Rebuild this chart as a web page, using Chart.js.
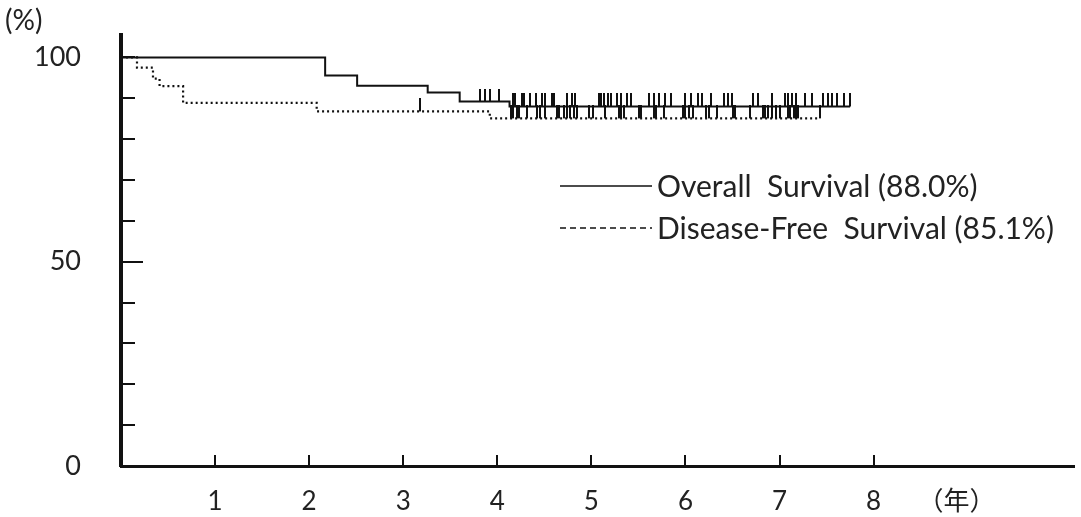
<!DOCTYPE html>
<html>
<head>
<meta charset="utf-8">
<script src="https://cdn.jsdelivr.net/npm/chart.js@4.4.1/dist/chart.umd.min.js"></script>
<style>
html, body { margin: 0; padding: 0; background: #fff; }
#wrap { width: 1081px; height: 517px; }
</style>
</head>
<body>
<div id="wrap"><canvas id="kmChart" width="1081" height="517"></canvas></div>
<script>
// Kaplan-Meier steps: time (years) and survival (%)
const osTimes = [0, 2.17, 2.51, 3.26, 3.60, 4.13];
const osValues = [100, 95.6, 93.1, 91.4, 89.2, 88.0];
const osEnd = 7.75;
const dfsTimes = [0, 0.17, 0.34, 0.41, 0.66, 2.08, 3.92];
const dfsValues = [100, 97.5, 94.8, 93.0, 88.9, 86.8, 85.1];
const dfsEnd = 7.43;

// censored cases (years)
const osCensored = [3.82, 3.87, 3.92, 4.02, 4.17, 4.19, 4.26, 4.28, 4.35, 4.41, 4.47, 4.51, 4.58, 4.60,
  4.74, 4.79, 4.83, 5.08, 5.10, 5.13, 5.18, 5.21, 5.27, 5.32, 5.38, 5.42, 5.61, 5.67, 5.72, 5.78, 5.85,
  6.00, 6.06, 6.13, 6.18, 6.27, 6.41, 6.45, 6.49, 6.72, 6.77, 6.92, 7.06, 7.09, 7.13, 7.17, 7.27, 7.35,
  7.46, 7.52, 7.56, 7.61, 7.69, 7.75];
const dfsCensored = [3.18, 4.15, 4.17, 4.21, 4.23, 4.32, 4.42, 4.45, 4.51, 4.63, 4.66, 4.71, 4.74, 4.77,
  4.81, 4.85, 4.97, 5.02, 5.14, 5.29, 5.32, 5.35, 5.51, 5.53, 5.67, 5.69, 5.77, 5.97, 6.00, 6.04, 6.08,
  6.22, 6.25, 6.34, 6.50, 6.53, 6.69, 6.82, 6.85, 6.88, 6.92, 6.96, 7.01, 7.09, 7.11, 7.15, 7.17, 7.20, 7.43];

const seriesLabels = ['Overall  Survival (88.0%)', 'Disease-Free  Survival (85.1%)'];
const xTicks = [1, 2, 3, 4, 5, 6, 7, 8];
const yTicks = [0, 10, 20, 30, 40, 50, 60, 70, 80, 90, 100];
const yLabelValues = [0, 50, 100];
const xUnit = '（年）';
const yUnit = '(%)';

const FONT = 'Lato, "Noto Sans CJK JP", sans-serif';
const INK = '#111';

function toSteps(times, values, end) {
  const pts = times.map((t, i) => ({ x: t, y: values[i] }));
  pts.push({ x: end, y: values[values.length - 1] });
  return pts;
}

function levelAt(times, values, t) {
  let v = values[0];
  for (let i = 0; i < times.length; i++) {
    if (times[i] <= t) v = values[i];
  }
  return v;
}

// censor mark: short vertical stroke standing on the curve
function censorMark() {
  const c = document.createElement('canvas');
  c.width = 2;
  c.height = 26;
  const g = c.getContext('2d');
  g.fillStyle = INK;
  g.fillRect(0, 0, 2, 13);
  return c;
}
const mark = censorMark();

const unitTickAt = 8.88;

const axisMarks = {
  id: 'axisMarks',
  afterDraw(chart) {
    const { ctx, scales: { x, y } } = chart;
    ctx.save();
    ctx.strokeStyle = INK;
    ctx.lineWidth = 2;
    ctx.beginPath();
    yTicks.forEach(v => {
      if (v === 0) return;
      const py = Math.round(y.getPixelForValue(v));
      ctx.moveTo(x.left, py);
      ctx.lineTo(x.left + (v === 50 ? 22 : 14), py);
    });
    xTicks.forEach(v => {
      const px = Math.round(x.getPixelForValue(v));
      ctx.moveTo(px, y.bottom);
      ctx.lineTo(px, y.bottom - 11);
    });
    ctx.stroke();

    ctx.fillStyle = '#222';
    ctx.font = '28px ' + FONT;
    ctx.textBaseline = 'middle';
    ctx.textAlign = 'left';
    ctx.fillText(yUnit, 5, 21);

    // legend
    ctx.font = '30px ' + FONT;
    [0, 1].forEach(i => {
      const ds = chart.data.datasets[i];
      const ly = 186 + i * 42;
      ctx.beginPath();
      ctx.lineWidth = 1.6;
      ctx.setLineDash(ds.borderDash ? [6, 4] : []);
      ctx.moveTo(560, ly);
      ctx.lineTo(652, ly);
      ctx.stroke();
      ctx.setLineDash([]);
      ctx.fillText(ds.label, 657, ly + 1);
    });
    ctx.restore();
  }
};

const ctx = document.getElementById('kmChart').getContext('2d');
new Chart(ctx, {
  type: 'line',
  data: {
    datasets: [
      {
        label: seriesLabels[0],
        data: toSteps(osTimes, osValues, osEnd),
        stepped: true,
        borderColor: INK,
        borderWidth: 2,
        pointRadius: 0,
        fill: false
      },
      {
        label: seriesLabels[1],
        data: toSteps(dfsTimes, dfsValues, dfsEnd),
        stepped: true,
        borderColor: INK,
        borderWidth: 2.2,
        borderDash: [2, 3],
        pointRadius: 0,
        fill: false
      },
      {
        label: 'OS censored',
        data: osCensored.map(t => ({ x: t, y: levelAt(osTimes, osValues, t) })),
        showLine: false,
        pointStyle: mark,
        pointRadius: 6
      },
      {
        label: 'DFS censored',
        data: dfsCensored.map(t => ({ x: t, y: levelAt(dfsTimes, dfsValues, t) })),
        showLine: false,
        pointStyle: mark,
        pointRadius: 6
      }
    ]
  },
  options: {
    responsive: false,
    animation: false,
    layout: { padding: { top: 35, right: 0, left: 0, bottom: 0 } },
    plugins: { legend: { display: false }, tooltip: { enabled: false } },
    scales: {
      x: {
        type: 'linear',
        min: 0,
        max: 10.13,
        afterFit: s => { s.height = 51; s.paddingLeft = 0; s.paddingRight = 0; },
        afterBuildTicks: s => { s.ticks = xTicks.concat([unitTickAt]).map(v => ({ value: v })); },
        grid: { display: true, drawOnChartArea: false, drawTicks: false },
        border: { display: true, color: INK, width: 3 },
        ticks: {
          autoSkip: false,
          maxRotation: 0,
          padding: 20,
          color: '#222',
          font: { family: FONT, size: 26 },
          callback: v => (v === unitTickAt ? xUnit : String(v))
        }
      },
      y: {
        min: 0,
        max: 105.5,
        afterFit: s => { s.width = 121; s.paddingTop = 0; s.paddingBottom = 0; },
        afterBuildTicks: s => { s.ticks = yTicks.map(v => ({ value: v })); },
        grid: { display: true, drawOnChartArea: false, drawTicks: false },
        border: { display: true, color: INK, width: 4 },
        ticks: {
          autoSkip: false,
          padding: 40,
          color: '#222',
          font: { family: FONT, size: 27 },
          callback: v => (yLabelValues.includes(v) ? String(v) : '')
        }
      }
    }
  },
  plugins: [axisMarks]
});
</script>
</body>
</html>
